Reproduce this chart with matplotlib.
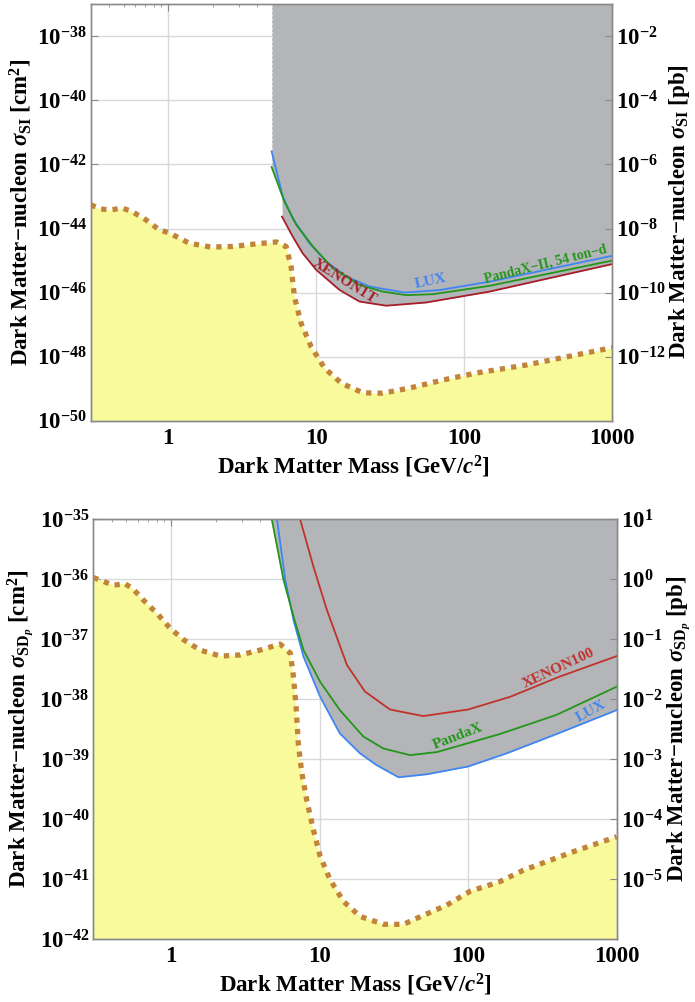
import numpy as np
import matplotlib
matplotlib.use("Agg")
import matplotlib.pyplot as plt
from matplotlib.ticker import FixedLocator, LogLocator, NullLocator, FuncFormatter, NullFormatter

plt.rcParams.update({
    "font.family": ["Liberation Serif", "DejaVu Serif"],
    "font.weight": "bold",
    "mathtext.fontset": "custom",
    "mathtext.rm": "Liberation Serif",
    "mathtext.it": "Liberation Serif:italic",
    "mathtext.bf": "Liberation Serif:bold",
})

# ---------------- spin-independent (top panel), log10(sigma / cm^2) ----------------
floor_si_mass = [0.30, 0.35, 0.41, 0.49, 0.57, 0.71, 0.87, 1.02, 1.39, 1.95, 2.73, 3.92,
                 5.41, 6.26, 6.77, 7.13, 7.91, 9.25, 11.4, 14.8, 20.7, 28.1, 42.8, 71.7,
                 121, 263, 741, 1000]
floor_si_log = [-43.26, -43.39, -43.42, -43.36, -43.47, -43.73, -44.04, -44.14, -44.46,
                -44.58, -44.56, -44.48, -44.42, -44.56, -45.19, -46.13, -46.96, -47.69,
                -48.36, -48.83, -49.13, -49.14, -48.98, -48.73, -48.51, -48.26, -47.84,
                -47.72]

lux_si_mass = [5.0, 5.95, 6.94, 9.0, 11.7, 16.0, 22.9, 39.6, 68.4, 148, 1000]
lux_si_log = [-41.59, -43.00, -43.68, -44.46, -45.03, -45.50, -45.81, -46.00, -45.92,
              -45.66, -44.85]

pandax_si_mass = [5.0, 6.1, 7.33, 9.5, 12.96, 19.6, 28.2, 40.7, 61.7, 148, 1000]
pandax_si_log = [-42.08, -43.16, -43.88, -44.56, -45.24, -45.76, -45.97, -46.08, -46.05,
                 -45.79, -45.00]

xenon1t_si_mass = [5.88, 6.94, 8.1, 10.0, 14.4, 19.6, 29.7, 55.3, 148, 1000]
xenon1t_si_log = [-43.63, -44.25, -44.77, -45.29, -45.92, -46.28, -46.41, -46.31, -45.97,
                  -45.11]

# ---------------- spin-dependent proton (bottom panel), log10(sigma / cm^2) ----------------
floor_sd_mass = [0.30, 0.41, 0.49, 0.56, 0.654, 0.806, 0.99, 1.22, 1.57, 2.15, 2.93, 3.98,
                 5.43, 6.35, 6.67, 6.95, 7.2, 7.6, 8.2, 9.1, 10.1, 11.8, 14.5, 18.8, 27,
                 36.7, 50, 71.8, 103, 163, 235, 510, 1000]
floor_sd_log = [-35.97, -36.10, -36.07, -36.17, -36.35, -36.57, -36.82, -37.01, -37.18,
                -37.28, -37.26, -37.18, -37.08, -37.23, -37.62, -38.12, -38.75, -39.23,
                -39.68, -40.18, -40.62, -41.01, -41.37, -41.62, -41.75, -41.75, -41.60,
                -41.43, -41.20, -41.04, -40.85, -40.54, -40.29]

lux_sd_mass = [5.17, 5.88, 6.68, 7.8, 10.1, 13.7, 18.7, 24.3, 34, 52.7, 100, 182, 393, 1000]
lux_sd_log = [-35.00, -36.01, -36.68, -37.29, -37.96, -38.57, -38.90, -39.10, -39.30,
              -39.25, -39.12, -38.90, -38.58, -38.18]

pandax_sd_mass = [4.77, 5.72, 6.68, 7.8, 10.1, 13.7, 19.7, 26.9, 40.6, 61.5, 163, 393, 1000]
pandax_sd_log = [-35.00, -36.01, -36.62, -37.18, -37.71, -38.18, -38.62, -38.82, -38.93,
                 -38.88, -38.58, -38.26, -37.79]

xenon100_sd_mass = [7.4, 9.1, 11.2, 15.3, 20.2, 29.8, 50, 100, 191, 415, 1000]
xenon100_sd_log = [-35.00, -35.79, -36.51, -37.43, -37.87, -38.17, -38.28, -38.17, -37.96,
                   -37.62, -37.28]

CM2_PER_PB = 1e-36

YELLOW = "#f8fa9c"
FLOOR_LINE = "#c2843a"
EXCLUDED = "#b4b5b9"
BLUE = "#3f86f2"
GREEN = "#23961a"
RED_DARK = "#a61e28"
RED = "#c0322a"
FRAME = "#8a8a8a"
GRID = "#d9d9d9"
FS = 16.5


def pow_label(v, pos):
    return r"$\mathbf{10^{%d}}$" % int(round(np.log10(v)))


def setup_axes(ax, ylim, left_ticks, right_ticks):
    ax.set_xscale("log")
    ax.set_yscale("log")
    ax.set_xlim(0.3, 1000)
    ax.set_ylim(*ylim)
    ax.xaxis.set_major_locator(FixedLocator([1, 10, 100, 1000]))
    ax.xaxis.set_minor_locator(LogLocator(base=10, subs=np.arange(2, 10)))
    ax.xaxis.set_minor_formatter(NullFormatter())
    ax.set_xticklabels(["1", "10", "100", "1000"], fontsize=FS, fontweight="bold")
    ax.yaxis.set_major_locator(FixedLocator(left_ticks))
    ax.yaxis.set_minor_locator(NullLocator())
    ax.yaxis.set_major_formatter(FuncFormatter(pow_label))
    ax.grid(True, which="major", color=GRID, lw=1.0)
    ax.set_axisbelow(True)
    ax.tick_params(which="both", direction="in", top=True, right=False, color=FRAME,
                   labelsize=FS)
    ax.tick_params(which="major", length=5, width=0.8)
    ax.tick_params(which="minor", length=2.5, width=0.6)
    ax.tick_params(axis="x", pad=5)
    ax.tick_params(axis="y", pad=3)
    for s in ax.spines.values():
        s.set_color(FRAME)
        s.set_linewidth(1.0)

    tw = ax.twinx()
    tw.set_yscale("log")
    tw.set_ylim(ylim[0] / CM2_PER_PB, ylim[1] / CM2_PER_PB)
    tw.yaxis.set_major_locator(FixedLocator(right_ticks))
    tw.yaxis.set_minor_locator(NullLocator())
    tw.yaxis.set_major_formatter(FuncFormatter(pow_label))
    tw.tick_params(which="both", direction="in", color=FRAME, labelsize=FS, length=5,
                   width=0.8, pad=3)
    for s in tw.spines.values():
        s.set_color(FRAME)
        s.set_linewidth(1.0)
    return tw


def lower_envelope(grid, curves):
    lg = np.log10(grid)
    vals = [np.interp(lg, np.log10(m), v, left=np.inf, right=np.inf) for m, v in curves]
    return np.min(vals, axis=0)


def draw_floor(ax, mass, logs):
    y = 10.0 ** np.asarray(logs)
    ax.fill_between(mass, 1e-60, y, color=YELLOW, lw=0, zorder=1)
    ax.plot(mass, y, color=FLOOR_LINE, lw=3.8, ls=(0, (1, 1.15)),
            dash_capstyle="butt", zorder=3)


def curve(ax, mass, logs, color):
    ax.plot(mass, 10.0 ** np.asarray(logs), color=color, lw=1.3, zorder=4)


fig = plt.figure(figsize=(6.95, 10.02), dpi=100)
W, H = 695.0, 1002.0

# ---------------- top panel ----------------
ax1 = fig.add_axes([90.7 / W, 1 - 420.7 / H, 521.6 / W, 416.4 / H])
setup_axes(ax1, (1e-50, 1e-37),
           [10.0 ** e for e in range(-50, -37, 2)],
           [10.0 ** e for e in range(-12, -1, 2)])

draw_floor(ax1, floor_si_mass, floor_si_log)
grid1 = np.logspace(np.log10(5.0), 3, 900)
env1 = lower_envelope(grid1, [(lux_si_mass, lux_si_log),
                              (pandax_si_mass, pandax_si_log),
                              (xenon1t_si_mass, xenon1t_si_log)])
ax1.fill_between(grid1, 10.0 ** env1, 1e-37, color=EXCLUDED, lw=0, zorder=1.5)
ax1.plot([5.0, 5.0], [10.0 ** env1[0], 1e-37], color="#dedede", lw=0.8,
         ls=(0, (2, 2)), zorder=2)
curve(ax1, lux_si_mass, lux_si_log, BLUE)
curve(ax1, pandax_si_mass, pandax_si_log, GREEN)
curve(ax1, xenon1t_si_mass, xenon1t_si_log, RED_DARK)

ax1.text(15.6, 10 ** -45.65, "XENON1T", color=RED_DARK, fontsize=11, rotation=-32,
         ha="center", va="center", zorder=5)
ax1.text(59, 10 ** -45.64, "LUX", color=BLUE, fontsize=11, rotation=12,
         ha="center", va="center", zorder=5)
ax1.text(355, 10 ** -45.12, "PandaX\u2212II, 54 ton\u2212d", color=GREEN, fontsize=10,
         rotation=14, ha="center", va="center", zorder=5)

# ---------------- bottom panel ----------------
ax2 = fig.add_axes([93.3 / W, 1 - 939.3 / H, 523.4 / W, 420.0 / H])
setup_axes(ax2, (1e-42, 1e-35),
           [10.0 ** e for e in range(-42, -34)],
           [10.0 ** e for e in range(-5, 2)])

draw_floor(ax2, floor_sd_mass, floor_sd_log)
grid2 = np.logspace(np.log10(4.77), 3, 900)
env2 = lower_envelope(grid2, [(lux_sd_mass, lux_sd_log),
                              (pandax_sd_mass, pandax_sd_log),
                              (xenon100_sd_mass, xenon100_sd_log)])
ax2.fill_between(grid2, 10.0 ** env2, 1e-35, color=EXCLUDED, lw=0, zorder=1.5)
curve(ax2, lux_sd_mass, lux_sd_log, BLUE)
curve(ax2, pandax_sd_mass, pandax_sd_log, GREEN)
curve(ax2, xenon100_sd_mass, xenon100_sd_log, RED)

ax2.text(409, 10 ** -37.48, "XENON100", color=RED, fontsize=11, rotation=25,
         ha="center", va="center", zorder=5)
ax2.text(86, 10 ** -38.61, "PandaX", color=GREEN, fontsize=11, rotation=21,
         ha="center", va="center", zorder=5)
ax2.text(678, 10 ** -38.19, "LUX", color=BLUE, fontsize=11, rotation=29,
         ha="center", va="center", zorder=5)

# ---------------- axis titles ----------------
xlab = r"Dark Matter Mass [GeV/$\mathbf{\mathit{c}}^{\mathbf{2}}$]"
fig.text(353 / W, 1 - 467 / H, xlab, fontsize=FS, ha="center", va="center")
fig.text(355 / W, 1 - 985 / H, xlab, fontsize=FS, ha="center", va="center")

fig.text(21 / W, 1 - 212 / H,
         r"Dark Matter$-$nucleon $\sigma_{\mathrm{SI}}$ [cm$^{\mathbf{2}}$]",
         fontsize=FS, rotation=90, ha="center", va="center")
fig.text(679 / W, 1 - 212 / H,
         r"Dark Matter$-$nucleon $\sigma_{\mathrm{SI}}$ [pb]",
         fontsize=FS, rotation=90, ha="center", va="center")
fig.text(21 / W, 1 - 729 / H,
         r"Dark Matter$-$nucleon $\sigma_{\mathrm{SD}_{\mathit{p}}}$ [cm$^{\mathbf{2}}$]",
         fontsize=FS, rotation=90, ha="center", va="center")
fig.text(679 / W, 1 - 729 / H,
         r"Dark Matter$-$nucleon $\sigma_{\mathrm{SD}_{\mathit{p}}}$ [pb]",
         fontsize=FS, rotation=90, ha="center", va="center")

fig.savefig("out.png", dpi=100)
